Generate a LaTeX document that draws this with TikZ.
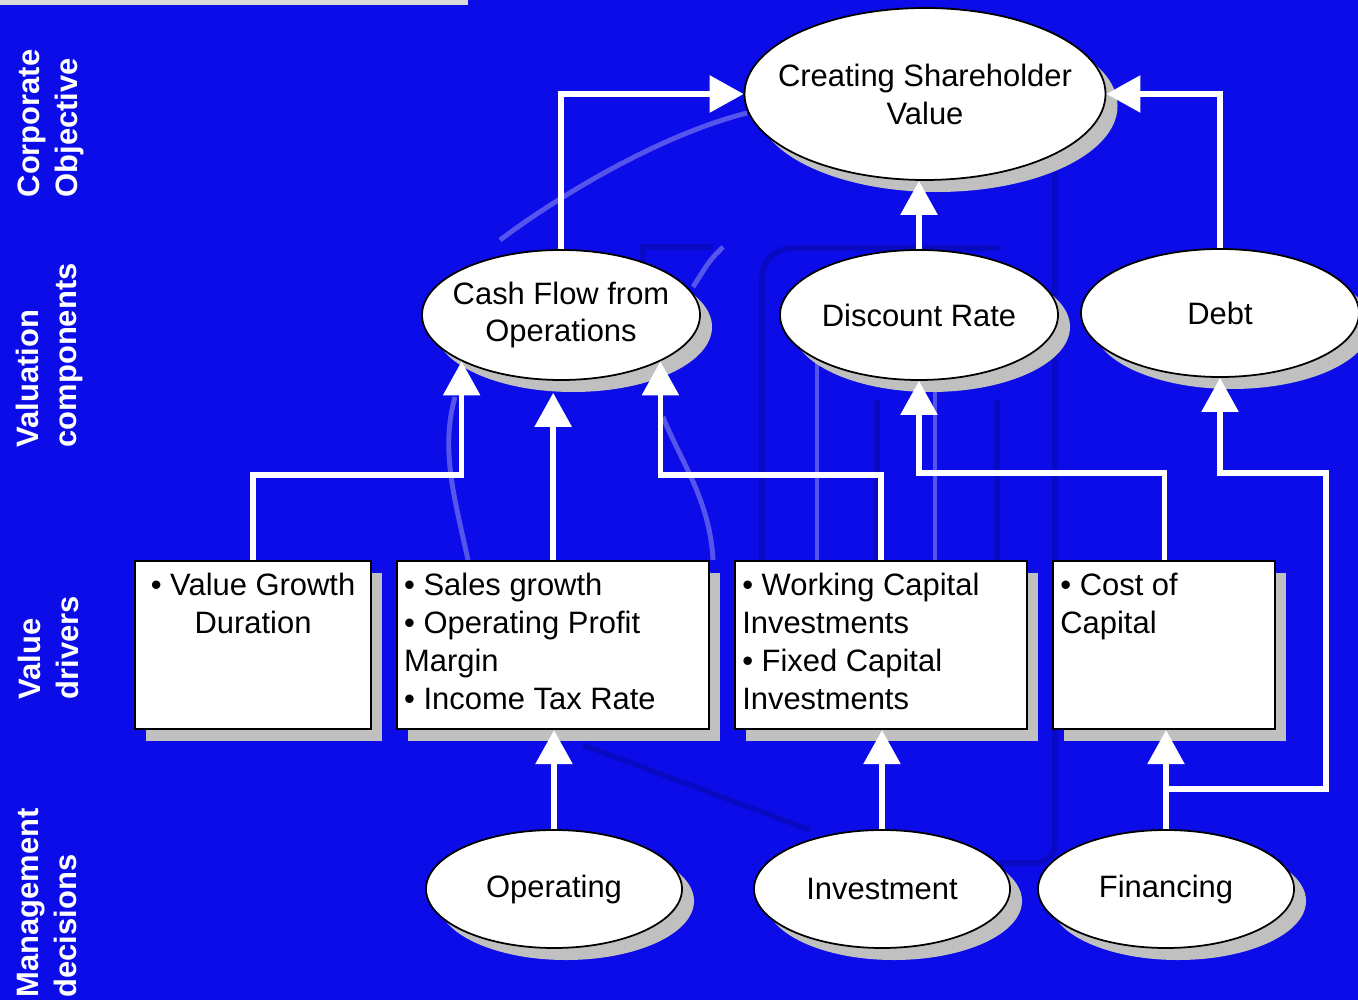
\documentclass[tikz,border=0pt]{standalone}
\usepackage{fontspec}
\setmainfont{Liberation Sans}
\usetikzlibrary{positioning,arrows.meta,shapes.geometric,shadows}
\definecolor{slide}{RGB}{12,12,232}
\definecolor{shade}{RGB}{192,192,192}
\newcommand{\basefont}{\fontsize{8.8}{10.8}\selectfont}
\newcommand{\drvtext}[2]{\parbox[b][1.44cm][t]{#1}{#2}}
\tikzset{
  link/.style={-{Triangle[length=3.4mm, width=3.6mm]}, line width=1.6pt, color=white},
  val/.style={ellipse, draw, line width=0.5pt, fill=white, inner sep=0pt,
    label={[align=center]center:#1},
    drop shadow={shadow xshift=1.2mm, shadow yshift=-1.2mm, fill=shade, opacity=1}},
  drv/.style={rectangle, draw, line width=0.6pt, fill=white, inner xsep=0.7mm, inner ysep=1.2mm,
    drop shadow={shadow xshift=1.1mm, shadow yshift=-1.2mm, fill=shade, opacity=1}},
  tier/.style={rotate=90, anchor=north west, align=left, inner sep=0pt, text=white, font=\basefont\bfseries},
  glow/.style={white, opacity=0.3, line width=1.4pt},
  smudge/.style={black, opacity=0.15, line width=1.6pt}
}

\begin{document}
\begin{tikzpicture}[font=\basefont, node distance=2.4mm]
\fill[slide] (0,0) rectangle (13.58,-10);
\useasboundingbox (0,0) rectangle (13.58,-10);
\fill[black!14] (0,0) rectangle (4.68,-0.05);

% faint marks on the backdrop
\draw[glow] (5.00,-2.40) .. controls (5.60,-1.95) and (6.60,-1.35) .. (7.47,-1.13);
\draw[glow] (7.23,-2.47) .. controls (7.10,-2.60) .. (6.93,-2.87);
\draw[glow] (6.63,-4.17) .. controls (6.80,-4.60) and (7.10,-5.00) .. (7.13,-5.60);
\draw[glow] (4.55,-3.97) .. controls (4.40,-4.50) and (4.55,-5.00) .. (4.68,-5.60);
\draw[glow] (8.17,-3.60) -- (8.17,-5.60);
\draw[glow] (9.35,-3.90) -- (9.35,-5.60);
\draw[smudge, rounded corners=3mm] (7.62,-5.60) -- (7.62,-2.48) -- (10.00,-2.48);
\draw[smudge] (6.43,-2.90) -- (6.43,-2.47) -- (7.13,-2.47);
\draw[smudge, rounded corners=2mm] (10.55,-1.70) -- (10.55,-8.63) -- (10.00,-8.63);
\draw[smudge] (5.83,-7.45) -- (8.10,-8.30);
\draw[smudge] (8.77,-4.00) -- (8.77,-5.60);
\draw[smudge] (9.97,-4.00) -- (9.97,-5.60);

\node[tier] (corp) at (0.17,-1.98) {Corporate\\Objective};
\node[tier] (valc) at (0.15,-4.48) {Valuation\\components};
\node[tier] (vdrv) at (0.17,-7.00) {Value\\drivers};
\node[tier] (mgmt) at (0.17,-9.98) {Management\\decisions};

\node[val={Creating Shareholder\\Value}, minimum width=3.61cm, minimum height=1.72cm] (csv) at (9.25,-0.94) {};
\node[val={Cash Flow from\\Operations}, minimum width=2.78cm, minimum height=1.30cm] (cfo) at (5.61,-3.15) {};
\node[val={Discount Rate}, minimum width=2.78cm, minimum height=1.30cm] (disc) at (9.19,-3.15) {};
\node[val={Debt}, minimum width=2.78cm, minimum height=1.28cm] (debt) at (12.20,-3.13) {};

\node[drv, anchor=north west] (growth) at (1.34,-5.60) {\drvtext{2.22cm}{\centering • Value Growth\\Duration}};
\node[drv, right=of growth] (margin) {\drvtext{2.98cm}{• Sales growth\\• Operating Profit\\Margin\\• Income Tax Rate}};
\node[drv, right=of margin] (invest) {\drvtext{2.78cm}{• Working Capital\\Investments\\• Fixed Capital\\Investments}};
\node[drv, right=of invest] (wacc) {\drvtext{2.08cm}{• Cost of\\Capital}};

\node[val={Operating}, minimum width=2.56cm, minimum height=1.18cm] (ops) at (5.54,-8.89) {};
\node[val={Investment}, minimum width=2.56cm, minimum height=1.18cm] (capex) at (8.82,-8.89) {};
\node[val={Financing}, minimum width=2.56cm, minimum height=1.18cm] (fund) at (11.66,-8.89) {};

\draw[link] (cfo.north) |- (csv.west);
\draw[link] (debt.north) |- (csv.east);
\draw[link] (disc.north) -- (disc.north |- csv.south);
\draw[link] (growth.north) -- ++(0,0.85) -| (cfo.205);
\draw[link, shorten >=1.2mm] (margin.north) -- (margin.north |- cfo.south);
\draw[link] (invest.north) -- ++(0,0.85) -| (cfo.335);
\draw[link] (wacc.north) -- ++(0,0.87) -| (disc.south);
\draw[link] (ops.north) -- (ops.north |- margin.south);
\draw[link] (capex.north) -- (capex.north |- invest.south);
\draw[link] (fund.north) -- (fund.north |- wacc.south);
\coordinate (fork) at ([yshift=4mm]fund.north);
\coordinate (turn) at (13.26,-4.73);
\draw[link] (fork) -| (turn) -| (debt.south);
\end{tikzpicture}
\end{document}
